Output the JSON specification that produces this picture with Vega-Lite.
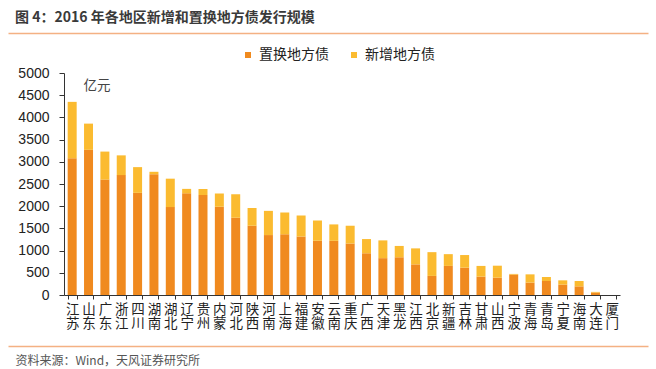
{
  "$schema": "https://vega.github.io/schema/vega-lite/v6.json",
  "width": 556,
  "height": 222,
  "autosize": "none",
  "padding": {"left": 64, "top": 73, "right": 36, "bottom": 74},
  "background": "white",
  "title": {
    "text": "图 4：2016 年各地区新增和置换地方债发行规模",
    "anchor": "start",
    "frame": "group",
    "dx": -49,
    "offset": 8,
    "fontSize": 14,
    "font": "Noto Sans CJK SC",
    "fontWeight": "bold",
    "color": "#3a3a3a"
  },
  "config": {
    "view": {"stroke": null},
    "axis": {"grid": false}
  },
  "data": {
    "values": [
      {"region": "江苏", "置换地方债": 3080, "新增地方债": 1270},
      {"region": "山东", "置换地方债": 3270, "新增地方债": 590},
      {"region": "广东", "置换地方债": 2600, "新增地方债": 630},
      {"region": "浙江", "置换地方债": 2700, "新增地方债": 445},
      {"region": "四川", "置换地方债": 2300, "新增地方债": 580},
      {"region": "湖南", "置换地方债": 2720, "新增地方债": 55},
      {"region": "湖北", "置换地方债": 1980, "新增地方债": 640},
      {"region": "辽宁", "置换地方债": 2290, "新增地方债": 100},
      {"region": "贵州", "置换地方债": 2250, "新增地方债": 140},
      {"region": "内蒙", "置换地方债": 1990, "新增地方债": 295},
      {"region": "河北", "置换地方债": 1740, "新增地方债": 530},
      {"region": "陕西", "置换地方债": 1560, "新增地方债": 400},
      {"region": "河南", "置换地方债": 1350, "新增地方债": 545},
      {"region": "上海", "置换地方债": 1370, "新增地方债": 490},
      {"region": "福建", "置换地方债": 1320, "新增地方债": 470},
      {"region": "安徽", "置换地方债": 1220, "新增地方债": 460},
      {"region": "云南", "置换地方债": 1220, "新增地方债": 370},
      {"region": "重庆", "置换地方债": 1160, "新增地方债": 400},
      {"region": "广西", "置换地方债": 940, "新增地方债": 320},
      {"region": "天津", "置换地方债": 830, "新增地方债": 400},
      {"region": "黑龙", "置换地方债": 850, "新增地方债": 255},
      {"region": "江西", "置换地方债": 690, "新增地方债": 360},
      {"region": "北京", "置换地方债": 430, "新增地方债": 535},
      {"region": "新疆", "置换地方债": 655, "新增地方债": 265},
      {"region": "吉林", "置换地方债": 615, "新增地方债": 285},
      {"region": "甘肃", "置换地方债": 415, "新增地方债": 240},
      {"region": "山西", "置换地方债": 390, "新增地方债": 270},
      {"region": "宁波", "置换地方债": 460, "新增地方债": 15},
      {"region": "青海", "置换地方债": 280, "新增地方债": 185},
      {"region": "青岛", "置换地方债": 315, "新增地方债": 90},
      {"region": "宁夏", "置换地方债": 235, "新增地方债": 95},
      {"region": "海南", "置换地方债": 195, "新增地方债": 120},
      {"region": "大连", "置换地方债": 55, "新增地方债": 15},
      {"region": "厦门", "置换地方债": 0, "新增地方债": 0}
    ]
  },
  "layer": [
    {
      "transform": [{"fold": ["置换地方债", "新增地方债"], "as": ["type", "value"]}],
      "mark": {"type": "bar"},
      "encoding": {
        "x": {
          "field": "region",
          "type": "nominal",
          "sort": null,
          "scale": {"paddingInner": 0.45, "paddingOuter": 0.225},
          "axis": {
            "title": "资料来源：Wind，天风证券研究所",
            "titleFont": "Noto Sans CJK SC",
            "titleFontSize": 12,
            "titleFontWeight": "normal",
            "titleColor": "#555555",
            "titleAnchor": "start",
            "titleAlign": "left",
            "titleBaseline": "middle",
            "titleX": -49,
            "titleY": 65,
            "labelExpr": "split(datum.label, '')",
            "labelAngle": 0,
            "labelFont": "Noto Sans CJK SC",
            "labelFontSize": 13.5,
            "labelLineHeight": 14,
            "labelBaseline": "top",
            "labelColor": "#222222",
            "labelPadding": 3,
            "tickBand": "extent",
            "tickSize": 4,
            "tickColor": "#333333",
            "domainColor": "#333333"
          }
        },
        "y": {
          "field": "value",
          "type": "quantitative",
          "stack": "zero",
          "scale": {"domain": [0, 5000]},
          "axis": {
            "values": [0, 500, 1000, 1500, 2000, 2500, 3000, 3500, 4000, 4500, 5000],
            "format": "d",
            "title": "亿元",
            "titleAngle": 0,
            "titleX": 19,
            "titleY": 12,
            "titleAlign": "left",
            "titleBaseline": "middle",
            "titleFont": "Noto Sans CJK SC",
            "titleFontSize": 13.5,
            "titleFontWeight": "normal",
            "titleColor": "#444444",
            "labelFont": "Liberation Sans",
            "labelFontSize": 14,
            "labelColor": "#222222",
            "labelPadding": 10,
            "tickSize": 5,
            "tickColor": "#333333",
            "domainColor": "#333333"
          }
        },
        "color": {
          "field": "type",
          "type": "nominal",
          "scale": {"domain": ["置换地方债", "新增地方债"], "range": ["#F08A1F", "#FBBB30"]},
          "legend": {
            "title": null,
            "orient": "none",
            "direction": "horizontal",
            "legendX": 177,
            "legendY": -25,
            "padding": 0,
            "symbolType": "square",
            "symbolSize": 36,
            "symbolStrokeWidth": 0,
            "labelFont": "Noto Sans CJK SC",
            "labelFontSize": 14,
            "labelColor": "#222222",
            "labelOffset": 4,
            "columnPadding": 18
          }
        },
        "order": {"field": "type", "sort": "descending"}
      }
    },
    {
      "mark": {"type": "bar", "opacity": 0},
      "encoding": {
        "x": {
          "field": "region",
          "type": "nominal",
          "sort": null,
          "scale": {"range": [-56, 584]},
          "axis": {"orient": "top", "offset": 40, "labels": false, "ticks": false, "title": null, "domainColor": "#F4B183", "domainWidth": 1.5}
        }
      }
    },
    {
      "mark": {"type": "bar", "opacity": 0},
      "encoding": {
        "x": {
          "field": "region",
          "type": "nominal",
          "sort": null,
          "scale": {"range": [-56, 584]},
          "axis": {"orient": "bottom", "offset": 51, "labels": false, "ticks": false, "title": null, "domainColor": "#F4B183", "domainWidth": 1.5}
        }
      }
    }
  ],
  "resolve": {"scale": {"x": "independent"}, "axis": {"x": "independent"}}
}
